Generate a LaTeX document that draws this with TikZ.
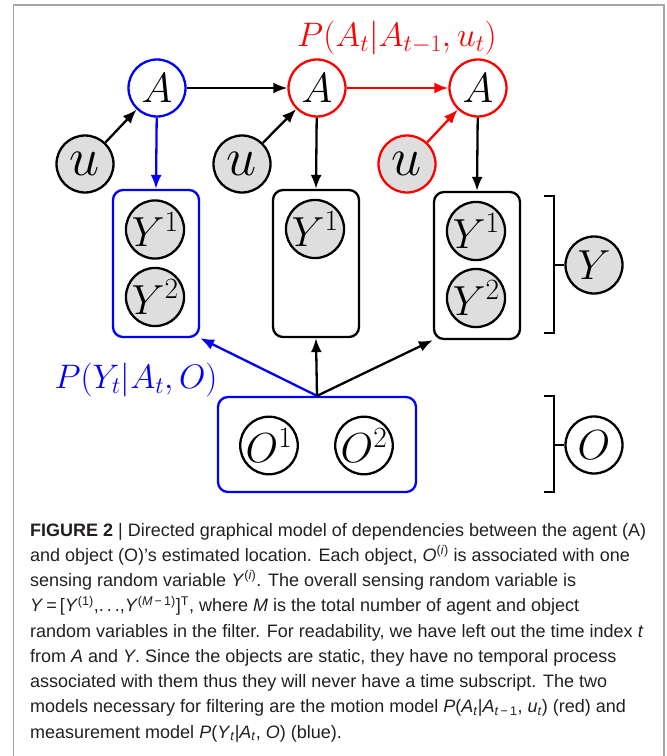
\RequirePackage{fix-cm}
\documentclass[tikz,border=0pt]{standalone}
\usepackage{fontspec}
\newfontfamily\capfont{Liberation Sans}
\usetikzlibrary{arrows.meta}
\definecolor{nodefill}{RGB}{222,222,222}
\definecolor{framegray}{RGB}{165,165,165}
\definecolor{captext}{RGB}{35,31,32}
\begin{document}
\begin{tikzpicture}[x=1pt,y=-1pt,
  var/.style={circle, draw, line width=2.3pt, minimum size=57pt, inner sep=0pt, font=\fontsize{42}{50}\selectfont},
  obs/.style={var, fill=nodefill},
  uvar/.style={obs, font=\fontsize{54}{60}\selectfont},
  grp/.style={draw, rounded corners=10pt, line width=2.3pt, minimum width=86pt, minimum height=147pt, inner sep=0pt, fill=white},
  arr/.style={line width=2.3pt, -{Latex[length=14pt,width=11pt]}},
  brk/.style={line width=2.8pt},
  lbl/.style={inner sep=0pt, font=\fontsize{34}{40}\selectfont},
  capline/.style={anchor=base west, inner sep=0pt, text=captext, font=\capfont\fontsize{18}{25}\selectfont}]
\useasboundingbox (0,0) rectangle (667,756);
\draw[framegray, line width=1.3pt] (13.5,760) -- (13.5,5) -- (664,5) -- (664,760);

% top row
\node[var, draw=blue] (A1) at (157,88) {$A$};
\node[var, draw=red] (A2) at (317,88) {$A$};
\node[var, draw=red] (A3) at (478,88) {$A$};
\node[uvar] (u1) at (85,164) {$u$};
\node[uvar] (u2) at (242,164) {$u$};
\node[uvar, draw=red] (u3) at (407,164) {$u$};
\node[lbl, red] (pm) at (397,37.5) {$P(A_t|A_{t-1},u_t)$};

% sensing groups
\node[grp, draw=blue] (b1) at (156,263.5) {};
\node[grp] (b2) at (316,263.5) {};
\node[grp] (b3) at (477,265.5) {};
\node[obs] (y11) at (155,229.5) {$Y^1$};
\node[obs] (y12) at (155,297) {$Y^2$};
\node[obs] (y21) at (315,229) {$Y^1$};
\node[obs] (y31) at (476,231) {$Y^1$};
\node[obs] (y32) at (476,298) {$Y^2$};

% objects
\node[draw=blue, rounded corners=10pt, line width=2.3pt, minimum width=198pt, minimum height=95pt, inner sep=0pt] (ob) at (317,444.5) {};
\node[var] (o1) at (269,445.5) {$O^1$};
\node[var] (o2) at (364,445.5) {$O^2$};
\node[lbl, blue] (pmeas) at (136,380) {$P(Y_t|A_t,O)$};

% summary nodes
\node[obs] (Y) at (594,265) {$Y$};
\node[var, fill=white] (O) at (594,445) {$O$};

% arrows
\draw[arr] (A1) -- (A2);
\draw[arr, red] (A2) -- (A3);
\draw[arr] (u1) -- (A1);
\draw[arr] (u2) -- (A2);
\draw[arr, red] (u3) -- (A3);
\draw[arr, blue] (A1) -- (b1.north);
\draw[arr] (A2) -- (b2.north);
\draw[arr] (A3) -- (b3.north);
\draw[arr, blue] (ob.north) -- (b1.south east);
\draw[arr] (ob.north) -- (b2.south);
\draw[arr] (ob.north) -- (b3.south west);

% brackets
\coordinate (yt) at (554,196);
\coordinate (yb) at (554,333);
\coordinate (ym) at (554,265);
\draw[brk] ([xshift=-10pt]yt) -- (yt) -- (yb) -- ([xshift=-10pt]yb);
\draw[brk] (ym) -- (Y.west);
\coordinate (ot) at (554,396);
\coordinate (obt) at (554,492);
\coordinate (om) at (554,445);
\draw[brk] ([xshift=-10pt]ot) -- (ot) -- (obt) -- ([xshift=-10pt]obt);
\draw[brk] (om) -- (O.west);

% caption
\node[capline] (c1) at (30,536) {\textbf{FIGURE 2} | Directed graphical model of dependencies between the agent (A)};
\node[capline] (c2) at (30,561.25) {and object (O)’s estimated location. Each object, \textit{O}\textsuperscript{(\textit{i})} is associated with one};
\node[capline] (c3) at (30,586.5) {sensing random variable \textit{Y}\textsuperscript{(\textit{i})}. The overall sensing random variable is};
\node[capline] (c4) at (30,611.75) {\textit{Y}\,=\,[\textit{Y}\textsuperscript{(1)},.\,.\,.,\textit{Y}\textsuperscript{(\textit{M}\,−\,1)}]\textsuperscript{T}, where \textit{M} is the total number of agent and object};
\node[capline] (c5) at (30,637) {random variables in the filter. For readability, we have left out the time index \textit{t}};
\node[capline] (c6) at (30,662.25) {from \textit{A} and \textit{Y}. Since the objects are static, they have no temporal process};
\node[capline] (c7) at (30,687.5) {associated with them thus they will never have a time subscript. The two};
\node[capline] (c8) at (30,712.75) {models necessary for filtering are the motion model \textit{P}(\textit{A}\textsubscript{\textit{t}}|\textit{A}\textsubscript{\textit{t}\,−\,1}, \textit{u}\textsubscript{\textit{t}}) (red) and};
\node[capline] (c9) at (30,738) {measurement model \textit{P}(\textit{Y}\textsubscript{\textit{t}}|\textit{A}\textsubscript{\textit{t}}, \textit{O}) (blue).};
\end{tikzpicture}
\end{document}
